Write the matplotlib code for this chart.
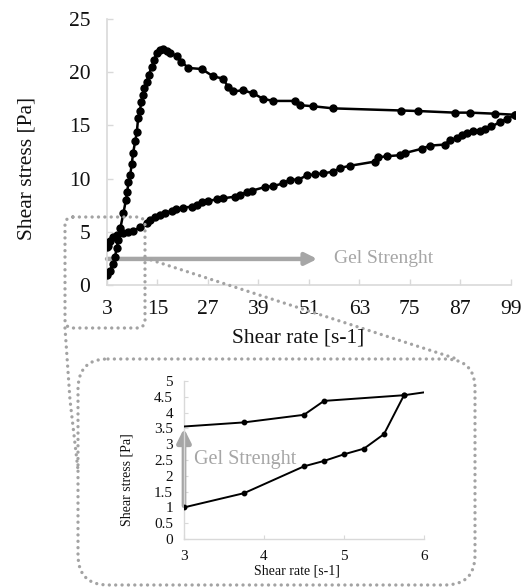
import matplotlib
matplotlib.use("Agg")
import matplotlib.pyplot as plt
from matplotlib.patches import FancyBboxPatch
import numpy as np

# ---------------- data ----------------
up_x = [3, 3.7, 4.5, 4.9, 5.3, 5.7, 6.2, 6.9, 7.5, 7.8, 8.1, 8.5, 8.9, 9.2, 9.7, 10.1, 10.4,
        10.8, 11.2, 11.5, 11.9, 12.4, 12.9, 13.6, 14.2, 14.8, 15.6, 16.4, 17.2, 18.0, 19.6, 20.7,
        22.3, 25.5, 28.3, 30.6, 31.8, 33.0, 35.4, 37.8, 40.1, 42.5, 47.7, 48.9, 52.0,
        56.8, 73.0, 77.0, 85.7, 89.3, 95.2, 100]
up_y = [0.94, 1.35, 2.0, 2.66, 3.45, 4.23, 5.4, 6.74, 8.0, 8.7, 9.7, 10.3, 11.4, 12.4, 13.5,
        14.4, 15.7, 16.4, 17.2, 17.9, 18.5, 19.1, 19.7, 20.5, 21.1, 21.8, 22.1, 22.2, 22.0, 21.8,
        21.5, 21.0, 20.4, 20.3, 19.6, 19.4, 18.6, 18.2, 18.3, 18.0, 17.5, 17.3, 17.3, 16.9,
        16.8, 16.6, 16.4, 16.35, 16.2, 16.2, 16.1, 16.0]
dn_x = [100, 98, 96.4, 94.4, 92.8, 91.6, 90.1, 88.5, 87.3, 86.1, 84.5, 83.3, 79.8, 77.8, 73.8,
        72.6, 69.5, 67.5, 66.7, 60.7, 58.4, 56.8, 54.4, 52.4, 50.5, 48.5, 46.5, 44.9, 42.5, 40.5,
        37.4, 36.2, 34.6, 33.4, 30.6, 29.1, 27.1, 25.5, 24.3, 23.1, 21.1, 19.5, 18.4, 16.8, 15.6,
        14.4, 13.2, 12.4, 10.8, 9.2, 8.1, 6.9, 5.3, 4.5, 3.7, 3.2, 3.0]
dn_y = [16.0, 15.6, 15.3, 14.9, 14.7, 14.5, 14.5, 14.3, 14.1, 13.8, 13.6, 13.2, 13.1, 12.8, 12.4,
        12.2, 12.1, 12.0, 11.6, 11.2, 11.0, 10.65, 10.5, 10.4, 10.3, 9.9, 9.9, 9.55, 9.3, 9.2,
        8.86, 8.7, 8.5, 8.3, 8.15, 8.05, 7.9, 7.8, 7.5, 7.36, 7.27, 7.14, 6.95, 6.8, 6.58,
        6.36, 6.1, 5.85, 5.42, 5.07, 4.95, 4.86, 4.7, 4.48, 4.16, 3.7, 3.55]
main_xticks = [3, 15, 27, 39, 51, 63, 75, 87, 99]
main_yticks = [0, 5, 10, 15, 20, 25]

# inset (zoom 3..6 s-1)
in_low_x = [3, 3.75, 4.5, 4.75, 5.0, 5.25, 5.5, 5.75]
in_low_y = [1.0, 1.45, 2.3, 2.47, 2.68, 2.86, 3.32, 4.55]
in_up_x = [3, 3.75, 4.5, 4.75, 5.75, 6.0]
in_up_y = [3.56, 3.69, 3.93, 4.37, 4.55, 4.64]
in_up_marked = [False, True, True, True, True, False]
in_xticks = [3, 4, 5, 6]
in_yticks = [0, 0.5, 1, 1.5, 2, 2.5, 3, 3.5, 4, 4.5, 5]
in_yticklabels = ["0", "0.5", "1", "1.5", "2", "2.5", "3", "3.5", "4", "4.5", "5"]

# ---------------- styling ----------------
plt.rcParams['font.family'] = ['Liberation Serif', 'DejaVu Serif']
W, H = 521, 587
fig = plt.figure(figsize=(W / 100, H / 100), dpi=100)
SPINE = '#d9d9d9'
GRAY = '#a6a6a6'
TXT = '#111111'

def px_axes(l, r, t, b):
    return [l / W, (H - b) / H, (r - l) / W, (b - t) / H]

# main axes
ax = fig.add_axes(px_axes(107, 515, 19, 285))
ax.plot(up_x, up_y, color='black', lw=1.8, marker='o', ms=5.0, zorder=3)
ax.plot(dn_x, dn_y, color='black', lw=1.8, marker='o', ms=5.0, zorder=3)
ax.set_xlim(3, 100)
ax.set_ylim(0, 25)
ax.set_xticks(main_xticks)
ax.set_yticks(main_yticks)
for s in ['top', 'right']:
    ax.spines[s].set_visible(False)
for s in ['left', 'bottom']:
    ax.spines[s].set_color(SPINE)
    ax.spines[s].set_linewidth(1.2)
ax.spines['bottom'].set_bounds(3, 99)
ax.tick_params(axis='both', direction='in', length=4, color=SPINE, width=1,
               labelsize=15.5, labelcolor=TXT)
ax.tick_params(axis='x', pad=11)
ax.tick_params(axis='y', pad=12)

# Gel strength arrow in main chart
ax.annotate('', xy=(53, 2.45), xytext=(3, 2.45),
            arrowprops=dict(arrowstyle='-|>,head_length=0.7,head_width=0.35',
                            color=GRAY, lw=3.2, shrinkA=0, shrinkB=0), zorder=2)
ax.text(57, 2.45, 'Gel Strenght', color=GRAY, fontsize=14, va='center', ha='left')

fig.text(27 / W, 1 - 168 / H, 'Shear stress [Pa]', rotation=90, ha='center', va='center',
         fontsize=15.5, color=TXT)
fig.text(298 / W, 1 - 338 / H, 'Shear rate [s-1]', ha='center', va='center',
         fontsize=15.5, color=TXT)

# inset axes
ia = fig.add_axes(px_axes(184, 424, 381, 539))
ia.plot(in_low_x, in_low_y, color='black', lw=1.4, marker='o', ms=3.2, zorder=3)
ia.plot(in_up_x, in_up_y, color='black', lw=1.4, zorder=3)
ia.plot([x for x, m in zip(in_up_x, in_up_marked) if m],
        [y for y, m in zip(in_up_y, in_up_marked) if m],
        ls='none', color='black', marker='o', ms=3.2, zorder=3)
ia.set_xlim(3, 6)
ia.set_ylim(0, 5)
ia.set_xticks(in_xticks)
ia.set_yticks(in_yticks)
ia.set_yticklabels(in_yticklabels)
for s in ['top', 'right']:
    ia.spines[s].set_visible(False)
for s in ['left', 'bottom']:
    ia.spines[s].set_color(SPINE)
    ia.spines[s].set_linewidth(1.0)
ia.tick_params(axis='both', direction='in', length=3, color=SPINE, width=0.8,
               labelsize=11, labelcolor=TXT)
ia.tick_params(axis='x', pad=8)
ia.tick_params(axis='y', pad=8)
ia.annotate('', xy=(3, 3.5), xytext=(3, 1.05),
            arrowprops=dict(arrowstyle='-|>,head_length=0.8,head_width=0.4',
                            color=GRAY, lw=3.4, shrinkA=0, shrinkB=0), zorder=2)
ia.text(3.13, 2.52, 'Gel Strenght', color=GRAY, fontsize=14.5, va='center', ha='left')
fig.text(127 / W, 1 - 480 / H, 'Shear stress [Pa]', rotation=90, ha='center', va='center',
         fontsize=10, color=TXT)
fig.text(297 / W, 1 - 571 / H, 'Shear rate [s-1]', ha='center', va='center',
         fontsize=10, color=TXT)

# overlay: dotted zoom frames and connectors (pixel coordinates)
ov = fig.add_axes([0, 0, 1, 1])
ov.set_xlim(0, W)
ov.set_ylim(H, 0)
ov.axis('off')
ov.patch.set_alpha(0)
DC = '#a3a3a3'
DLS = (0, (0.01, 1.9))
DOT = dict(color=DC, lw=2.4, linestyle=DLS, dash_capstyle='round')
small = FancyBboxPatch((65, 217), 80, 111, boxstyle='round,pad=0,rounding_size=8',
                       fill=False, edgecolor=DC, lw=2.4, linestyle=DLS, capstyle='round')
big = FancyBboxPatch((78, 359), 397, 226, boxstyle='round,pad=0,rounding_size=30',
                     fill=False, edgecolor=DC, lw=2.4, linestyle=DLS, capstyle='round')
ov.add_patch(small)
ov.add_patch(big)
ov.plot([145, 457], [258, 359], **DOT)
ov.plot([65, 70, 78], [328, 400, 470], **DOT)

fig.savefig('out.png', dpi=100, facecolor='white')
